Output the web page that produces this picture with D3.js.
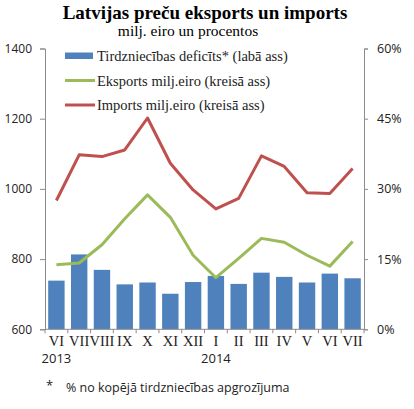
<!DOCTYPE html>
<html>
<head>
<meta charset="utf-8">
<script src="https://cdn.jsdelivr.net/npm/d3@7"></script>
<style>
body { margin: 0; background: #fff; }
svg { display: block; }
.serif { font-family: "Liberation Serif", "DejaVu Serif", serif; }
.sans { font-family: "Open Sans", "Liberation Sans", sans-serif; }
</style>
</head>
<body>
<div id="chart"></div>
<script>
// menesi un gadi
var months = ["VI", "VII", "VIII", "IX", "X", "XI", "XII", "I", "II", "III", "IV", "V", "VI", "VII"];
var years = [{ idx: 0, label: "2013" }, { idx: 7, label: "2014" }];

// dati nolasiti no attela
var deficit = [10.4, 16.0, 12.7, 9.6, 10.0, 7.6, 10.1, 11.4, 9.7, 12.1, 11.2, 10.0, 11.9, 10.9];
var exportsM = [784, 789, 841, 915, 983, 919, 811, 747, 802, 859, 848, 811, 780, 850];
var importsM = [967, 1097, 1092, 1111, 1202, 1073, 997, 943, 973, 1094, 1064, 989, 987, 1058];

var leftTicks = [600, 800, 1000, 1200, 1400];
var rightTicks = [0, 15, 30, 45, 60];

var legendItems = [
	{ name: "Tirdzniecības deficīts* (labā ass)", color: "#4F81BD", type: "bar" },
	{ name: "Eksports milj.eiro (kreisā ass)", color: "#9BBB59", type: "line" },
	{ name: "Imports milj.eiro (kreisā ass)", color: "#C0504D", type: "line" }
];

var W = 414, H = 409;
var plotL = 45, plotR = 364, plotT = 48.5, plotB = 329.3;

var svg = d3.select("#chart").append("svg")
	.attr("width", W)
	.attr("height", H);

var x = d3.scaleBand()
	.domain(d3.range(months.length))
	.range([plotL, plotR])
	.paddingInner(0.28)
	.paddingOuter(0.14);

var yL = d3.scaleLinear().domain([600, 1400]).range([plotB, plotT]);
var yR = d3.scaleLinear().domain([0, 60]).range([plotB, plotT]);

// virsraksts
svg.append("text")
	.attr("class", "serif")
	.attr("x", 205)
	.attr("y", 19)
	.attr("text-anchor", "middle")
	.style("font-size", "19px")
	.style("font-weight", "bold")
	.text("Latvijas preču eksports un imports");

svg.append("text")
	.attr("class", "serif")
	.attr("x", 188)
	.attr("y", 36)
	.attr("text-anchor", "middle")
	.style("font-size", "15.5px")
	.text("milj. eiro un procentos");

// stabini
svg.append("g").selectAll("rect")
	.data(deficit)
	.enter().append("rect")
	.attr("x", function (d, i) { return x(i); })
	.attr("y", function (d) { return yR(d); })
	.attr("width", x.bandwidth())
	.attr("height", function (d) { return yR(0) - yR(d); })
	.attr("fill", "#4F81BD");

// asis
var axisColor = "#8c8c8c";
var gL = svg.append("g")
	.attr("transform", "translate(" + plotL + ",0)")
	.call(d3.axisLeft(yL).tickValues(leftTicks).tickSize(5).tickPadding(8)
		.tickFormat(d3.format("d")));

var gR = svg.append("g")
	.attr("transform", "translate(" + plotR + ",0)")
	.call(d3.axisRight(yR).tickValues(rightTicks).tickSize(4).tickPadding(9)
		.tickFormat(function (d) { return d + "%"; }));

var gB = svg.append("g")
	.attr("transform", "translate(0," + plotB + ")")
	.call(d3.axisBottom(x).tickSize(0).tickPadding(6.4)
		.tickFormat(function (i) { return months[i]; }));

[gL, gR, gB].forEach(function (g) {
	g.select(".domain").attr("stroke", axisColor);
	g.selectAll(".tick line").attr("stroke", axisColor);
	g.selectAll("text").attr("fill", "#222");
});
gL.selectAll("text").attr("class", "sans").style("font-size", "12px");
gR.selectAll("text").attr("class", "sans").style("font-size", "12.5px");
gB.select(".domain").attr("d", "M" + plotL + ",0H" + plotR);
gB.selectAll("text").attr("class", "serif").style("font-size", "14.5px");

// robezu ieskavas starp menesiem
var step = x.step();
svg.append("g").selectAll("line")
	.data(d3.range(months.length + 1))
	.enter().append("line")
	.attr("x1", function (i) { return plotL + i * step; })
	.attr("x2", function (i) { return plotL + i * step; })
	.attr("y1", plotB)
	.attr("y2", plotB + 4)
	.attr("stroke", axisColor);

// gadi
svg.append("g").selectAll("text")
	.data(years)
	.enter().append("text")
	.attr("class", "sans")
	.attr("x", function (d) { return x(d.idx) + x.bandwidth() / 2; })
	.attr("y", 362.5)
	.attr("text-anchor", "middle")
	.style("font-size", "13px")
	.attr("fill", "#222")
	.text(function (d) { return d.label; });

// liknes
var lineL = d3.line()
	.x(function (d, i) { return x(i) + x.bandwidth() / 2; })
	.y(function (d) { return yL(d); });

svg.append("path")
	.datum(exportsM)
	.attr("d", lineL)
	.attr("fill", "none")
	.attr("stroke", "#9BBB59")
	.attr("stroke-width", 3)
	.attr("stroke-linejoin", "round");

svg.append("path")
	.datum(importsM)
	.attr("d", lineL)
	.attr("fill", "none")
	.attr("stroke", "#C0504D")
	.attr("stroke-width", 3)
	.attr("stroke-linejoin", "round");

// legenda
var lg = svg.append("g").selectAll("g")
	.data(legendItems)
	.enter().append("g")
	.attr("transform", function (d, i) { return "translate(65," + (56 + i * 24.5) + ")"; });

lg.filter(function (d) { return d.type === "bar"; })
	.append("rect")
	.attr("x", 0).attr("y", -3.5)
	.attr("width", 28).attr("height", 6.5)
	.attr("fill", function (d) { return d.color; });

lg.filter(function (d) { return d.type === "line"; })
	.append("line")
	.attr("x1", 0).attr("x2", 30)
	.attr("y1", 0).attr("y2", 0)
	.attr("stroke", function (d) { return d.color; })
	.attr("stroke-width", 3);

lg.append("text")
	.attr("class", "serif")
	.attr("x", 32)
	.attr("y", 5)
	.style("font-size", "14.5px")
	.attr("fill", "#222")
	.text(function (d) { return d.name; });

// piezime
svg.append("text")
	.attr("class", "sans")
	.attr("x", 46)
	.attr("y", 390)
	.style("font-size", "13px")
	.attr("fill", "#222")
	.text("*");

svg.append("text")
	.attr("class", "sans")
	.attr("x", 66)
	.attr("y", 392)
	.style("font-size", "12.5px")
	.attr("fill", "#222")
	.text("% no kopējā tirdzniecības apgrozījuma");
</script>
</body>
</html>
